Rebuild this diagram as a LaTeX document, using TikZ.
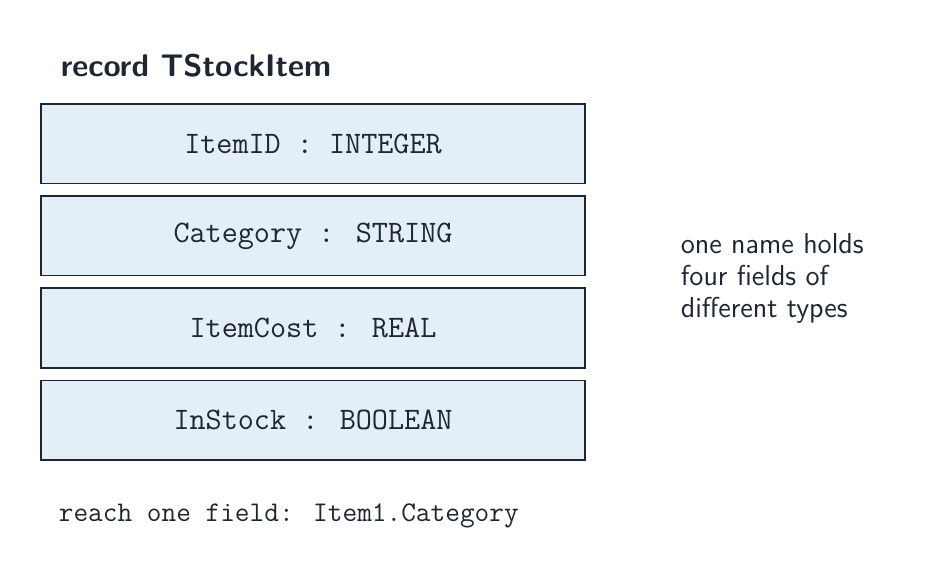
\documentclass[tikz,border=0pt]{standalone}
\usepackage{tikz}
\usetikzlibrary{positioning}
\definecolor{inkNavy}{HTML}{1E2633}
\definecolor{fieldFill}{HTML}{E3EEF6}
\tikzset{%
  % Specifications for style of nodes:
  field/.style = {rectangle, draw=inkNavy, line width=0.6pt, fill=fieldFill,
                  minimum width=217.6pt, minimum height=31.8pt,
                  text=inkNavy, font=\fontsize{12.5}{14}\ttfamily},
  note/.style = {text=inkNavy, align=left, font=\fontsize{11.5}{12.8}\sffamily},
}
\begin{document}
\begin{tikzpicture}[x=0.4pt, y=-0.4pt]
  \useasboundingbox (0,0) rectangle (925,584);
  % Specification of nodes (position, etc.)
  \node (title) [anchor=west, text=inkNavy, font=\fontsize{12.5}{14}\sffamily\bfseries]
        at (52,66) {record TStockItem};
  \node (itemID)   [field] at (313,144) {ItemID : INTEGER};
  \node (category) [field, below=4.4pt of itemID] {Category : STRING};
  \node (itemCost) [field, below=4.4pt of category] {ItemCost : REAL};
  \node (inStock)  [field, below=4.4pt of itemCost] {InStock : BOOLEAN};
  \node (sideNote) [note, anchor=west] at (672,278)
        {one name holds\\four fields of\\different types};
  \node (access) [anchor=west, text=inkNavy, font=\fontsize{11.4}{13}\ttfamily]
        at (50,516) {reach one field: Item1.Category};
\end{tikzpicture}
\end{document}
